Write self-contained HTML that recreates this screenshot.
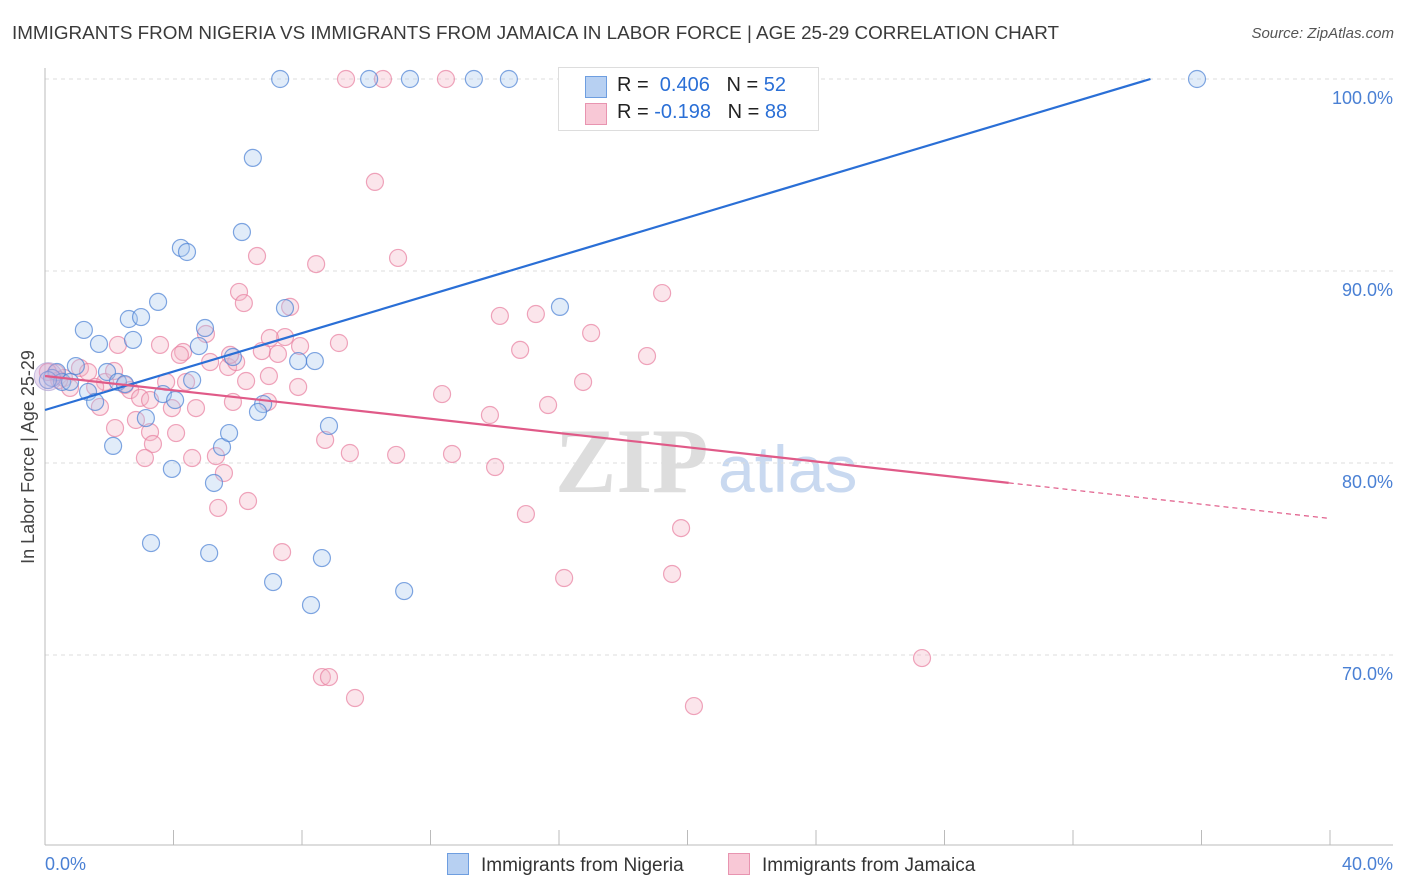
<!DOCTYPE html>
<html><head><meta charset="utf-8"><style>
body{margin:0;background:#fff;font-family:"Liberation Sans",sans-serif;}
#wrap{position:relative;width:1406px;height:892px;overflow:hidden;}
.t{position:absolute;white-space:nowrap;}
</style></head><body>
<div id="wrap">
<div class="t" style="left:12px;top:22px;font-size:18.85px;color:#3a3a3a;">IMMIGRANTS FROM NIGERIA VS IMMIGRANTS FROM JAMAICA IN LABOR FORCE | AGE 25-29 CORRELATION CHART</div>
<div class="t" style="right:12px;top:25px;font-size:15px;color:#555;font-style:italic;">Source: ZipAtlas.com</div>
<svg id="svg" width="1406" height="892" style="position:absolute;left:0;top:0"></svg>
</div>
<script>
const xTicks=[0,40];
const yTicks=[70,80,90,100];
const nigX=[7.32,10.09,11.36,13.35,14.44,35.86,6.47,6.13,4.23,4.42,3.52,1.21,2.61,2.99,2.74,1.68,4.98,4.79,5.85,7.47,7.88,8.40,16.03,1.93,0.96,0.37,0.22,0.53,0.78,1.34,1.56,2.27,2.49,3.67,4.05,4.58,3.14,2.12,3.95,5.26,5.51,5.73,6.79,6.63,8.84,3.30,5.11,7.10,8.62,8.28,11.18,0.09];
const nigY=[100,100,100,100,100,100,95.89,92.03,91.20,90.99,88.39,86.93,87.50,87.60,86.41,86.20,87.03,86.09,85.52,88.07,85.31,85.31,88.13,84.74,85.05,84.74,84.43,84.22,84.22,83.70,83.18,84.22,84.11,83.59,83.28,84.32,82.34,80.89,79.69,78.96,80.83,81.56,83.07,82.66,81.93,75.83,75.31,73.80,75.05,72.60,73.33,84.32];
const jamX=[9.37,10.52,12.48,10.27,6.60,8.44,10.99,6.04,6.19,7.63,19.21,14.16,15.28,17.00,9.15,7.47,7.94,14.79,18.74,3.58,2.27,4.30,5.01,4.20,6.75,7.25,5.70,5.95,6.97,5.14,1.09,1.34,0.59,0.34,1.87,1.56,2.49,2.65,3.77,4.39,16.75,7.88,12.36,2.96,1.71,3.95,4.70,5.85,6.94,15.66,13.85,2.83,2.18,3.27,4.08,3.36,8.72,9.49,10.93,12.67,14.01,3.11,4.58,5.32,5.57,6.32,5.39,14.97,19.80,7.38,16.16,19.52,27.30,8.62,8.84,9.65,20.20,0.09,0.78,0.44,2.15,5.76,3.27,7.00,6.26];
const jamY=[100,100,100,94.64,90.78,90.36,90.68,88.91,88.33,88.13,88.85,87.66,87.76,86.77,86.25,86.56,86.09,85.89,85.57,86.15,86.15,85.78,86.72,85.63,85.83,85.68,85.00,85.26,84.53,85.26,84.95,84.74,84.43,84.69,84.22,83.96,84.06,83.80,84.22,84.22,84.22,83.96,83.59,83.39,82.92,82.86,82.86,83.18,83.18,83.02,82.50,82.24,81.82,81.61,81.56,80.99,81.20,80.52,80.42,80.47,79.79,80.26,80.26,80.36,79.48,78.02,77.66,77.34,76.61,75.36,74.01,74.22,69.84,68.85,68.85,67.76,67.34,84.74,83.91,84.32,84.79,85.63,83.28,86.51,84.27];
const nigTrend=[82.76,0.501];
const jamTrend=[84.53,-0.1855];
const X=v=>45+v*32.125, Y=v=>79+(100-v)*19.2;
const s=document.getElementById('svg');const NS='http://www.w3.org/2000/svg';
function mk(t,a){const e=document.createElementNS(NS,t);for(const k in a)e.setAttribute(k,a[k]);s.appendChild(e);return e;}
let w=mk('text',{x:555,y:492,'font-size':92,'font-family':'Liberation Serif',fill:'#ddd','font-weight':'bold'});w.textContent='ZIP';


w=mk('text',{x:718,y:492,'font-size':66,'font-family':'Liberation Sans',fill:'#c9d9f0'});w.textContent='atlas';


yTicks.forEach(v=>{let g=mk('line',{x1:45,x2:1393,y1:Y(v),y2:Y(v),stroke:'#ddd','stroke-dasharray':'4,4'});


let t=mk('text',{x:1393,y:Y(v)+25,'text-anchor':'end','font-size':18,fill:'#4a80d4'});t.textContent=v.toFixed(1)+'%';

});
let ax=mk('line',{x1:45,x2:45,y1:68,y2:845,stroke:'#bbb'});


ax=mk('line',{x1:45,x2:1393,y1:845,y2:845,stroke:'#bbb'});


for(let i=1;i<=10;i++){let l=mk('line',{x1:X(i*4),x2:X(i*4),y1:830,y2:845,stroke:'#bbb'});

}
xTicks.forEach((v,i)=>{let t=mk('text',{x:i?1393:45,y:870,'text-anchor':i?'end':'start','font-size':18,fill:'#4a80d4'});t.textContent=v.toFixed(1)+'%';

});
function pts(xs,ys,fill,stroke,name){xs.forEach((x,i)=>{let c=mk('circle',{cx:X(x),cy:Y(ys[i]),r:8.5,fill:fill,'fill-opacity':0.35,stroke:stroke,'stroke-opacity':0.7,'stroke-width':1.2});

});}
pts(jamX,jamY,'#f4b4c6','#e87fa0','jamaica-point');
pts(nigX,nigY,'#a9c8ef','#4a80d4','nigeria-point');
let big=mk('circle',{cx:X(0.1),cy:Y(84.5),r:14,fill:'#c9a8d8','fill-opacity':0.4,stroke:'#a99ad0','stroke-opacity':0.6});


let xe=(100-nigTrend[0])/nigTrend[1];
let tl=mk('line',{x1:X(0),y1:Y(nigTrend[0]),x2:X(xe),y2:Y(100),stroke:'#2a6fd6','stroke-width':2.2});


tl=mk('line',{x1:X(0),y1:Y(jamTrend[0]),x2:X(30),y2:Y(jamTrend[0]+30*jamTrend[1]),stroke:'#e05a88','stroke-width':2.2});


tl=mk('line',{x1:X(30),y1:Y(jamTrend[0]+30*jamTrend[1]),x2:X(40),y2:Y(jamTrend[0]+40*jamTrend[1]),stroke:'#e05a88','stroke-width':1.2,'stroke-dasharray':'5,4'});


let yt=mk('text',{x:34,y:457,'text-anchor':'middle','font-size':18,fill:'#444',transform:'rotate(-90 34 457)'});yt.textContent='In Labor Force | Age 25-29';


</script>
<div class="t" style="left:558px;top:67px;width:259px;height:62px;border:1px solid #ddd;background:#fff;font-size:20px;">
<div style="position:absolute;left:26px;top:8px;width:20px;height:20px;background:#b7d0f2;border:1px solid #6e9ee0"></div>
<div class="t" style="left:58px;top:6px;color:#222">R = <span style="color:#2a6fd6">&nbsp;0.406</span>&nbsp;&nbsp;&nbsp;N = <span style="color:#2a6fd6">52</span></div>
<div style="position:absolute;left:26px;top:35px;width:20px;height:20px;background:#f8c8d6;border:1px solid #e894b0"></div>
<div class="t" style="left:58px;top:33px;color:#222">R = <span style="color:#2a6fd6">-0.198</span>&nbsp;&nbsp;&nbsp;N = <span style="color:#2a6fd6">88</span></div>
</div>
<div class="t" style="left:447px;top:853px;font-size:19px;color:#333;"><span style="display:inline-block;width:20px;height:20px;background:#b7d0f2;border:1px solid #6e9ee0;vertical-align:-4px;margin-right:12px"></span>Immigrants from Nigeria</div>
<div class="t" style="left:728px;top:853px;font-size:19px;color:#333;"><span style="display:inline-block;width:20px;height:20px;background:#f8c8d6;border:1px solid #e894b0;vertical-align:-4px;margin-right:12px"></span>Immigrants from Jamaica</div>
</body></html>
